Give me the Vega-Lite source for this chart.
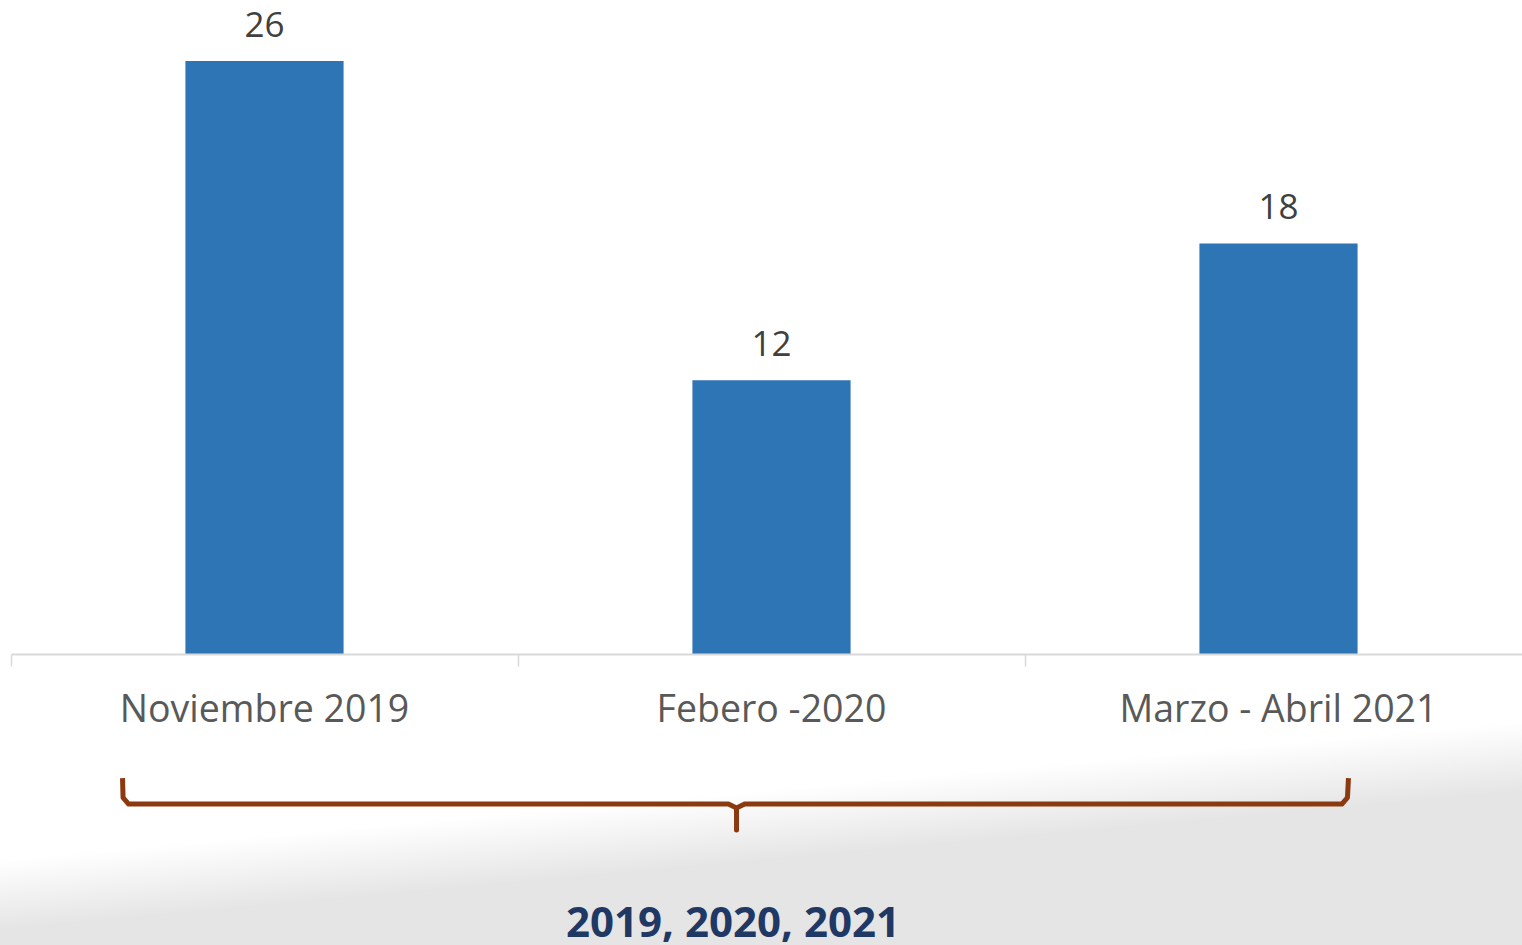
{
  "$schema": "https://vega.github.io/schema/vega-lite/v6.json",
  "autosize": {"type": "none"},
  "padding": {"left": 11, "top": 4, "right": 0, "bottom": 291},
  "width": 1511,
  "height": 650,
  "background": "#ffffff",
  "config": {"view": {"stroke": null}},
  "datasets": {
    "bars": [
      {"periodo": "Noviembre 2019", "valor": 26},
      {"periodo": "Febero -2020", "valor": 12},
      {"periodo": "Marzo - Abril 2021", "valor": 18}
    ],
    "shade": [
      {"x0": -0.03, "x1": 3.01, "y0": -2.9, "y1": -13.0}
    ],
    "brace": [
      {"o": 1, "bx": 0.220, "by": -5.44},
      {"o": 2, "bx": 0.221, "by": -6.30},
      {"o": 3, "bx": 0.232, "by": -6.58},
      {"o": 4, "bx": 1.415, "by": -6.58},
      {"o": 5, "bx": 1.431, "by": -6.75},
      {"o": 6, "bx": 1.431, "by": -7.72},
      {"o": 7, "bx": 1.431, "by": -6.75},
      {"o": 8, "bx": 1.447, "by": -6.58},
      {"o": 9, "bx": 2.625, "by": -6.58},
      {"o": 10, "bx": 2.636, "by": -6.30},
      {"o": 11, "bx": 2.638, "by": -5.44}
    ]
  },
  "layer": [
    {
      "data": {"name": "shade"},
      "mark": {
        "type": "rect",
        "clip": false,
        "color": {
          "gradient": "linear",
          "x1": 0.27, "y1": 0.444, "x2": 0.405, "y2": 0.666,
          "stops": [
            {"offset": 0, "color": "#ffffff"},
            {"offset": 1, "color": "#e5e5e5"}
          ]
        }
      },
      "encoding": {
        "x": {"field": "x0", "type": "quantitative", "scale": {"domain": [0, 3], "range": [0, 1521], "nice": false, "zero": false}, "axis": null},
        "x2": {"field": "x1"},
        "y": {"field": "y0", "type": "quantitative", "scale": {"domain": [0, 28.5], "nice": false}, "axis": null},
        "y2": {"field": "y1"}
      }
    },
    {
      "data": {"name": "bars"},
      "layer": [
        {
          "mark": {"type": "bar", "color": "#2E75B6", "width": {"band": 0.312}},
          "encoding": {
            "x": {
              "field": "periodo", "type": "nominal", "sort": null,
              "scale": {"range": [0, 1521], "paddingInner": 0, "paddingOuter": 0},
              "title": "2019, 2020, 2021",
              "axis": {
                "zindex": 2,
                "labelAngle": 0,
                "labelLimit": 0,
                "labelFont": "Open Sans",
                "labelFontSize": 37.5,
                "labelColor": "#595959",
                "labelPadding": 25,
                "domainColor": "#D9D9D9",
                "domainWidth": 2,
                "tickColor": "#D9D9D9",
                "tickWidth": 1.5,
                "tickSize": 12,
                "bandPosition": 0,
                "titleFont": "Open Sans",
                "titleFontSize": 42,
                "titleFontWeight": "bold",
                "titleColor": "#1F3864",
                "titlePadding": 175,
                "titleX": 721.5
              }
            },
            "y": {"field": "valor", "type": "quantitative", "scale": {"domain": [0, 28.5], "nice": false}, "axis": null}
          }
        },
        {
          "mark": {"type": "text", "font": "Open Sans", "fontSize": 35, "color": "#404040", "baseline": "alphabetic", "dy": -24},
          "encoding": {
            "x": {"field": "periodo", "type": "nominal", "sort": null},
            "y": {"field": "valor", "type": "quantitative"},
            "text": {"field": "valor", "type": "quantitative"}
          }
        }
      ]
    },
    {
      "data": {"name": "brace"},
      "mark": {"type": "line", "clip": false, "color": "#8B3A0F", "strokeWidth": 5, "strokeJoin": "round", "strokeCap": "butt"},
      "encoding": {
        "x": {"field": "bx", "type": "quantitative", "scale": {"domain": [0, 3], "range": [0, 1521], "nice": false, "zero": false}, "axis": null},
        "y": {"field": "by", "type": "quantitative", "scale": {"domain": [0, 28.5], "nice": false}, "axis": null},
        "order": {"field": "o", "type": "quantitative"}
      }
    }
  ],
  "resolve": {"scale": {"x": "independent", "y": "independent"}}
}
